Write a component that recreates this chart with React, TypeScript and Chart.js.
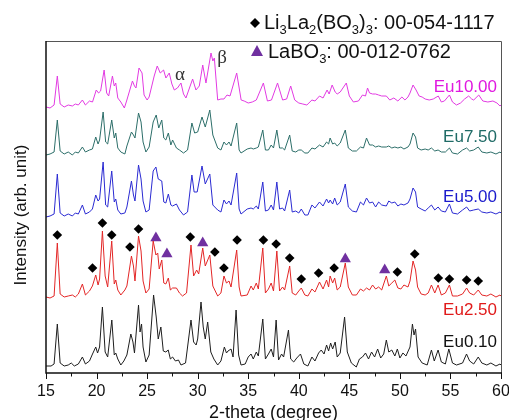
import React, { useEffect, useRef } from "react";
import { Chart, registerables } from "chart.js";
Chart.register(...registerables);

// ---------- data (2-theta in degrees, relative intensity) ----------
const sampleNames = ["Eu0.10", "Eu2.50", "Eu5.00", "Eu7.50", "Eu10.00"];
const sampleColors = ["#1e1e1e", "#e32626", "#2a2ad2", "#2c6e69", "#e23ae2"];
const labelColors = ["#111111", "#e01a1a", "#1a1acc", "#1f6b66", "#e018e0"];
const sampleOffsets = [6, 74, 156, 217, 265];

const eu010: number[][] = [
  [15.0, 1], [15.5, 1], [15.8, 3], [16.12, 43], [16.4, 4], [16.8, 1], [17.2, 2], [17.5, 4], [17.8, 1], [18.2, 3],
  [18.6, 10], [18.9, 3], [19.3, 6], [19.6, 13], [19.92, 20], [20.1, 14], [20.3, 20], [20.58, 60], [20.85, 15], [21.1, 10],
  [21.51, 47], [21.75, 12], [21.9, 14], [22.1, 8], [22.4, 2], [22.7, 6], [23.0, 12], [23.39, 33], [23.6, 25], [23.75, 14],
  [24.15, 62], [24.3, 35], [24.45, 43], [24.6, 20], [24.88, 5], [25.2, 12], [25.64, 72], [25.9, 50], [26.1, 28], [26.36, 40],
  [26.6, 16], [26.85, 15], [27.09, 17], [27.3, 8], [27.52, 10], [27.8, 6], [28.1, 7], [28.35, 2], [28.8, 4], [29.34, 47],
  [29.6, 25], [29.85, 22], [30.0, 28], [30.33, 65], [30.55, 40], [30.75, 28], [30.99, 45], [31.3, 15], [31.6, 8], [31.98, 2],
  [32.3, 6], [32.64, 20], [32.85, 14], [33.0, 16], [33.3, 18], [33.5, 10], [33.8, 57], [34.05, 12], [34.29, 2], [34.7, 3],
  [35.0, 10], [35.28, 13], [35.5, 8], [35.8, 15], [36.0, 11], [36.44, 48], [36.7, 8], [37.0, 13], [37.27, 18], [37.5, 10],
  [37.76, 47], [38.0, 7], [38.3, 13], [38.5, 10], [38.98, 37], [39.2, 8], [39.5, 5], [39.8, 9], [40.17, 13], [40.5, 3],
  [40.9, 1], [41.3, 10], [41.6, 6], [41.96, 14], [42.22, 17], [42.5, 13], [42.75, 22], [42.95, 16], [43.15, 24], [43.35, 18],
  [43.6, 25], [43.8, 10], [44.1, 14], [44.53, 50], [44.8, 15], [45.2, 4], [45.69, 0], [46.0, 8], [46.3, 10], [46.6, 14],
  [46.9, 8], [47.2, 15], [47.5, 10], [47.8, 18], [48.1, 9], [48.4, 13], [48.66, 27], [48.9, 15], [49.2, 17], [49.5, 11],
  [49.75, 18], [50.0, 9], [50.3, 14], [50.6, 11], [51.0, 20], [51.24, 43], [51.4, 32], [51.55, 38], [51.8, 10], [52.2, 4],
  [52.7, 2], [53.12, 17], [53.4, 6], [53.78, 17], [54.1, 5], [54.5, 3], [54.84, 18], [55.2, 4], [55.6, 2], [56.2, 4],
  [56.59, 13], [56.9, 6], [57.3, 3], [57.75, 10], [58.1, 4], [58.6, 2], [59.0, 4], [59.5, 1], [59.9, 3], [60.0, 2],
];

const eu250: number[][] = [
  [15.0, 2], [15.4, 1], [15.8, 3], [16.12, 56], [16.4, 5], [16.8, 2], [17.2, 3], [17.61, 4], [17.9, 2], [18.2, 5],
  [18.6, 15], [18.9, 4], [19.3, 8], [19.59, 13], [19.92, 24], [20.15, 14], [20.3, 20], [20.58, 68], [20.85, 23], [21.1, 12],
  [21.5, 58], [21.75, 15], [21.9, 19], [22.1, 9], [22.4, 4], [22.8, 9], [23.0, 13], [23.45, 43], [23.65, 33], [23.8, 18],
  [24.15, 63], [24.4, 48], [24.6, 18], [24.88, 6], [25.2, 10], [25.6, 58], [25.87, 44], [26.05, 46], [26.2, 30], [26.45, 39],
  [26.65, 16], [26.85, 15], [27.1, 21], [27.3, 9], [27.52, 11], [27.9, 11], [28.2, 6], [28.5, 3], [28.9, 6], [29.34, 54],
  [29.6, 23], [29.9, 29], [30.1, 25], [30.5, 51], [30.75, 33], [31.2, 44], [31.5, 13], [31.98, 3], [32.3, 6], [32.6, 23],
  [32.85, 16], [33.1, 18], [33.3, 12], [33.86, 49], [34.1, 12], [34.29, 3], [34.9, 4], [35.28, 13], [35.5, 9], [35.8, 16],
  [36.0, 10], [36.44, 51], [36.7, 6], [37.0, 10], [37.27, 16], [37.5, 8], [37.83, 48], [38.1, 8], [38.4, 12], [38.6, 9],
  [39.1, 33], [39.35, 6], [39.7, 4], [40.0, 8], [40.25, 11], [40.6, 4], [40.9, 3], [41.3, 10], [41.6, 7], [42.05, 17],
  [42.4, 10], [42.75, 19], [42.95, 12], [43.1, 23], [43.35, 16], [43.55, 21], [43.8, 9], [44.1, 12], [44.6, 36], [44.9, 12],
  [45.3, 4], [45.7, 4], [46.1, 10], [46.4, 8], [46.7, 11], [47.0, 9], [47.3, 14], [47.6, 10], [47.9, 12], [48.2, 9],
  [48.66, 23], [48.9, 13], [49.2, 16], [49.5, 19], [49.8, 11], [50.1, 10], [50.4, 14], [50.8, 12], [51.0, 18], [51.3, 38],
  [51.55, 29], [51.75, 12], [52.1, 5], [52.5, 4], [52.8, 6], [53.12, 14], [53.45, 6], [53.78, 14], [54.1, 4], [54.5, 6],
  [54.9, 14], [55.2, 3], [55.7, 3], [56.2, 5], [56.6, 11], [56.9, 6], [57.3, 4], [57.75, 9], [58.1, 4], [58.6, 3],
  [59.0, 5], [59.5, 2], [59.9, 4], [60.0, 3],
];

const eu500: number[][] = [
  [15.0, 0], [15.4, 1], [15.8, 3], [16.12, 43], [16.4, 4], [16.8, 1], [17.2, 3], [17.61, 1], [17.9, 4], [18.2, 3],
  [18.6, 12], [18.9, 3], [19.3, 5], [19.59, 8], [19.92, 22], [20.15, 16], [20.3, 18], [20.65, 55], [20.9, 12], [21.1, 10],
  [21.5, 46], [21.75, 15], [21.9, 18], [22.1, 7], [22.4, 3], [22.8, 4], [23.0, 10], [23.45, 36], [23.65, 22], [23.8, 16],
  [24.15, 52], [24.4, 38], [24.6, 16], [24.88, 5], [25.2, 7], [25.6, 46], [25.87, 50], [26.1, 38], [26.45, 36], [26.65, 15],
  [26.85, 14], [27.1, 23], [27.35, 12], [27.52, 11], [27.9, 13], [28.2, 7], [28.6, 2], [29.0, 5], [29.43, 42], [29.65, 25],
  [29.95, 25], [30.43, 51], [30.75, 33], [31.2, 43], [31.5, 12], [31.98, 7], [32.3, 5], [32.6, 17], [32.85, 13], [33.1, 16],
  [33.3, 12], [33.86, 44], [34.1, 8], [34.29, 3], [34.9, 8], [35.28, 9], [35.5, 8], [35.8, 11], [36.0, 8], [36.44, 35],
  [36.7, 6], [37.0, 7], [37.27, 12], [37.5, 7], [37.83, 35], [38.1, 8], [38.4, 9], [38.6, 6], [39.1, 27], [39.35, 5],
  [39.7, 6], [40.0, 4], [40.25, 8], [40.6, 2], [40.9, 2], [41.3, 12], [41.6, 9], [42.05, 15], [42.4, 11], [42.75, 18],
  [42.95, 14], [43.1, 17], [43.35, 13], [43.55, 19], [43.8, 12], [44.1, 15], [44.6, 33], [44.9, 10], [45.3, 6], [45.7, 5],
  [46.1, 15], [46.4, 12], [46.7, 19], [47.0, 14], [47.3, 15], [47.6, 10], [47.9, 15], [48.2, 12], [48.66, 11], [48.9, 16],
  [49.2, 14], [49.5, 15], [49.8, 11], [50.1, 13], [50.4, 12], [50.8, 14], [51.0, 18], [51.3, 29], [51.55, 25], [51.75, 10],
  [52.1, 8], [52.5, 6], [52.8, 9], [53.12, 12], [53.45, 7], [53.78, 10], [54.1, 6], [54.5, 5], [54.9, 13], [55.2, 4],
  [55.7, 3], [56.2, 7], [56.6, 10], [56.9, 6], [57.3, 7], [57.75, 8], [58.1, 5], [58.6, 4], [59.0, 5], [59.5, 3],
  [59.9, 5], [60.0, 4],
];

const eu750: number[][] = [
  [15.0, 1], [15.4, 2], [15.8, 4], [16.12, 36], [16.4, 5], [16.8, 2], [17.2, 4], [17.61, 1], [17.9, 4], [18.2, 3],
  [18.6, 9], [18.9, 4], [19.3, 6], [19.59, 7], [19.92, 19], [20.15, 12], [20.3, 16], [20.65, 44], [20.9, 14], [21.1, 12],
  [21.5, 36], [21.75, 18], [21.9, 23], [22.1, 8], [22.4, 4], [22.8, 2], [23.0, 10], [23.45, 24], [23.65, 21], [23.8, 18],
  [24.15, 43], [24.4, 34], [24.6, 14], [24.88, 4], [25.2, 9], [25.6, 34], [25.9, 41], [26.15, 28], [26.45, 36], [26.65, 18],
  [26.85, 16], [27.1, 23], [27.35, 11], [27.52, 16], [27.9, 8], [28.2, 6], [28.6, 3], [29.0, 6], [29.43, 33], [29.7, 23],
  [30.0, 24], [30.43, 39], [30.75, 29], [31.2, 46], [31.5, 21], [31.98, 8], [32.3, 6], [32.6, 14], [32.85, 11], [33.1, 14],
  [33.3, 10], [33.86, 33], [34.1, 6], [34.29, 3], [34.9, 7], [35.28, 8], [35.5, 7], [35.8, 8], [36.0, 9], [36.44, 26],
  [36.7, 6], [37.0, 6], [37.27, 11], [37.5, 8], [37.83, 26], [38.1, 8], [38.4, 8], [38.6, 6], [39.1, 21], [39.35, 5],
  [39.7, 4], [40.0, 6], [40.25, 6], [40.6, 3], [40.9, 3], [41.3, 8], [41.6, 7], [42.05, 11], [42.4, 9], [42.75, 14],
  [42.95, 12], [43.1, 18], [43.35, 12], [43.55, 13], [43.8, 10], [44.1, 13], [44.6, 26], [44.9, 8], [45.3, 5], [45.7, 5],
  [46.1, 9], [46.4, 8], [46.7, 18], [47.0, 11], [47.3, 11], [47.6, 9], [47.9, 10], [48.2, 9], [48.66, 9], [48.9, 10],
  [49.2, 8], [49.5, 9], [49.8, 8], [50.1, 9], [50.4, 7], [50.8, 9], [51.0, 12], [51.3, 23], [51.55, 19], [51.75, 8],
  [52.1, 6], [52.5, 7], [52.8, 6], [53.12, 8], [53.45, 5], [53.78, 6], [54.1, 4], [54.5, 4], [54.9, 8], [55.2, 3],
  [55.7, 2], [56.2, 6], [56.6, 8], [56.9, 5], [57.3, 6], [57.75, 9], [58.1, 4], [58.6, 3], [59.0, 4], [59.5, 2],
  [59.9, 4], [60.0, 3],
];

const eu1000: number[][] = [
  [15.0, 1], [15.4, 0], [15.8, 3], [16.12, 32], [16.4, 4], [16.8, 1], [17.2, 3], [17.61, 2], [17.9, 4], [18.2, 3],
  [18.6, 8], [18.9, 3], [19.3, 7], [19.6, 6], [19.97, 18], [20.2, 15], [20.4, 17], [20.75, 38], [21.0, 15], [21.2, 12],
  [21.57, 32], [21.75, 22], [21.9, 25], [22.1, 10], [22.4, 6], [22.75, 0], [23.0, 8], [23.55, 27], [23.75, 22], [23.9, 20],
  [24.2, 40], [24.5, 35], [24.7, 13], [25.0, 8], [25.2, 11], [25.7, 32], [26.0, 42], [26.3, 35], [26.63, 38], [26.86, 30],
  [27.19, 35], [27.45, 24], [27.69, 18], [28.0, 20], [28.35, 25], [28.6, 14], [28.84, 10], [29.5, 29], [29.83, 18], [30.16, 22],
  [30.5, 43], [30.82, 25], [31.32, 55], [31.5, 47], [31.65, 50], [31.98, 8], [32.3, 9], [32.6, 9], [32.9, 13], [33.2, 12],
  [33.86, 35], [34.3, 8], [34.6, 7], [35.0, 5], [35.4, 6], [35.8, 8], [36.5, 25], [36.9, 7], [37.3, 8], [37.9, 25],
  [38.4, 8], [38.8, 9], [39.2, 22], [39.6, 8], [40.0, 5], [40.4, 4], [40.8, 3], [41.3, 8], [41.6, 7], [42.05, 12],
  [42.4, 10], [42.8, 18], [43.0, 14], [43.3, 23], [43.6, 16], [43.8, 14], [44.1, 16], [44.7, 25], [45.0, 12], [45.4, 6],
  [45.9, 7], [46.3, 13], [46.6, 12], [46.8, 20], [47.0, 15], [47.3, 14], [47.6, 14], [47.9, 13], [48.2, 12], [48.66, 12],
  [49.0, 8], [49.4, 10], [49.8, 7], [50.2, 11], [50.5, 8], [50.8, 11], [51.0, 15], [51.3, 23], [51.6, 18], [51.9, 12],
  [52.2, 11], [52.5, 9], [52.9, 8], [53.3, 9], [53.8, 12], [54.1, 6], [54.4, 7], [54.9, 13], [55.2, 6], [55.6, 3],
  [56.0, 5], [56.4, 9], [56.8, 12], [57.1, 9], [57.3, 8], [57.8, 13], [58.2, 7], [58.7, 6], [59.2, 7], [59.6, 5],
  [59.9, 2], [60.0, 3],
];

const sampleSeries = [eu010, eu250, eu500, eu750, eu1000];

// reference-phase markers above the Eu2.50 pattern
const diamondTheta = [16.12, 19.6, 20.58, 21.5, 23.3, 24.15, 29.27, 31.7, 32.6, 33.9, 36.5, 37.76, 39.1, 40.25, 41.96, 43.5, 49.75, 51.47, 53.8, 54.9, 56.6, 57.75];
const diamondLevel = [138, 105, 150, 138, 126, 144, 136, 121, 105, 133, 133, 129, 115, 94, 100, 105, 101, 119, 95, 94, 93, 92];
const triangleTheta = [25.87, 26.96, 30.5, 44.6, 48.5];
const triangleLevel = [135, 119, 130, 114, 103];

const xTicks = [15, 20, 25, 30, 35, 40, 45, 50, 55, 60];

const FONT = "'Liberation Sans', Arial, sans-serif";

const decorPlugin = {
  id: "decor",
  afterDraw(chart: any) {
    const { ctx, chartArea } = chart;
    const { left, right, top, bottom } = chartArea;
    const xs = chart.scales.x;
    ctx.save();
    // frame
    ctx.strokeStyle = "#555";
    ctx.lineWidth = 1;
    ctx.beginPath();
    ctx.moveTo(left, top + 0.5);
    ctx.lineTo(right + 0.5, top + 0.5);
    ctx.lineTo(right + 0.5, bottom);
    ctx.stroke();
    ctx.strokeStyle = "#111";
    ctx.lineWidth = 1.5;
    ctx.beginPath();
    ctx.moveTo(left, top);
    ctx.lineTo(left, bottom);
    ctx.lineTo(right + 1, bottom);
    ctx.stroke();
    // ticks
    ctx.lineWidth = 1;
    for (let v = 15; v <= 60.01; v += 2.5) {
      const px = Math.round(xs.getPixelForValue(v)) + 0.5;
      const major = Math.abs(v / 5 - Math.round(v / 5)) < 1e-6;
      ctx.beginPath();
      ctx.moveTo(px, bottom);
      ctx.lineTo(px, bottom + (major ? 6 : 3.5));
      ctx.stroke();
    }
    // axis titles
    ctx.fillStyle = "#111";
    ctx.font = `18px ${FONT}`;
    ctx.textAlign = "center";
    ctx.textBaseline = "alphabetic";
    ctx.fillText("2-theta (degree)", (left + right) / 2, 418);
    ctx.save();
    ctx.translate(26, 215);
    ctx.rotate(-Math.PI / 2);
    ctx.font = `17px ${FONT}`;
    ctx.fillText("Intensity (arb. unit)", 0, 0);
    ctx.restore();

    // sample labels
    const labelBase = [347, 315, 202, 142, 92];
    ctx.textAlign = "right";
    ctx.font = `17px ${FONT}`;
    sampleNames.forEach((n, i) => {
      ctx.fillStyle = labelColors[i];
      ctx.fillText(n, 497, labelBase[i]);
    });

    // greek letters
    ctx.fillStyle = "#333";
    ctx.textAlign = "center";
    ctx.font = `19px 'Liberation Serif', serif`;
    ctx.fillText("\u03b1", 180, 80);
    ctx.fillText("\u03b2", 222, 63);

    // legend
    const drawRich = (parts: [string, boolean][], x: number, y: number) => {
      ctx.textAlign = "left";
      ctx.fillStyle = "#111";
      let cx = x;
      parts.forEach(([t, sub]) => {
        ctx.font = sub ? `13px ${FONT}` : `20px ${FONT}`;
        ctx.fillText(t, cx, sub ? y + 5 : y);
        cx += ctx.measureText(t).width;
      });
    };
    // diamond
    ctx.fillStyle = "#000";
    ctx.beginPath();
    ctx.moveTo(255, 18);
    ctx.lineTo(260, 23);
    ctx.lineTo(255, 28);
    ctx.lineTo(250, 23);
    ctx.closePath();
    ctx.fill();
    drawRich([["Li", false], ["3", true], ["La", false], ["2", true], ["(BO", false], ["3", true], [")", false], ["3", true], [": 00-054-1117", false]], 264, 29);
    // triangle
    ctx.fillStyle = "#7030a0";
    ctx.beginPath();
    ctx.moveTo(257, 45);
    ctx.lineTo(263, 56);
    ctx.lineTo(251, 56);
    ctx.closePath();
    ctx.fill();
    drawRich([["LaBO", false], ["3", true], [": 00-012-0762", false]], 268, 58);
    ctx.restore();
  },
};

export default function App() {
  const ref = useRef<HTMLCanvasElement | null>(null);
  useEffect(() => {
    if (!ref.current) return;
    const datasets: any[] = sampleSeries.map((s, i) => ({
      label: sampleNames[i],
      data: s.map(([x, h]) => ({ x, y: h + sampleOffsets[i] })),
      borderColor: sampleColors[i],
      borderWidth: 1,
      pointRadius: 0,
      tension: 0,
      fill: false,
    }));
    datasets.push({
      label: "Li3La2(BO3)3",
      data: diamondTheta.map((x, i) => ({ x, y: diamondLevel[i] })),
      showLine: false,
      pointStyle: "rectRot",
      pointRadius: 4.8,
      backgroundColor: "#000",
      borderColor: "#000",
      borderWidth: 0,
    });
    datasets.push({
      label: "LaBO3",
      data: triangleTheta.map((x, i) => ({ x, y: triangleLevel[i] })),
      showLine: false,
      pointStyle: "triangle",
      pointRadius: 6.5,
      backgroundColor: "#7030a0",
      borderColor: "#7030a0",
      borderWidth: 0,
    });
    const chart = new Chart(ref.current, {
      type: "line",
      data: { datasets },
      plugins: [decorPlugin],
      options: {
        responsive: false,
        animation: false,
        events: [],
        layout: { padding: { left: 46, right: 8, top: 41, bottom: 0 } },
        plugins: { legend: { display: false }, tooltip: { enabled: false } },
        scales: {
          x: {
            type: "linear",
            min: 15,
            max: 60,
            afterBuildTicks: (s: any) => {
              s.ticks = xTicks.map((v) => ({ value: v }));
            },
            afterFit: (s: any) => {
              s.height = 47;
              s.paddingLeft = 0;
              s.paddingRight = 0;
            },
            grid: { display: false, drawTicks: false },
            border: { display: false },
            ticks: {
              color: "#111",
              font: { size: 16, family: FONT },
              padding: 9,
              maxRotation: 0,
              autoSkip: false,
            },
          },
          y: { display: false, min: 0, max: 332 },
        },
      },
    });
    return () => chart.destroy();
  }, []);
  return (
    <div style={{ position: "fixed", left: 0, top: 0, width: 509, height: 420, background: "#fff" }}>
      <canvas ref={ref} width={509} height={420} />
    </div>
  );
}
